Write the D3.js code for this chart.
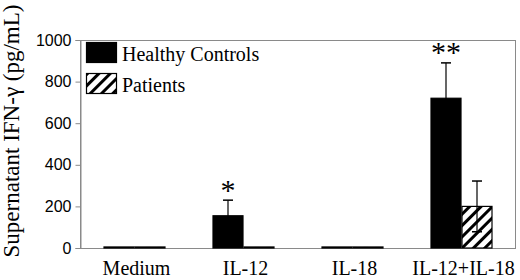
<!DOCTYPE html>
<html>
<head>
<meta charset="utf-8">
<script src="https://cdn.jsdelivr.net/npm/d3@7"></script>
<style>
  body { margin: 0; background: #fff; }
  svg { display: block; }
</style>
</head>
<body>
<svg id="chart"></svg>
<script>
// data
const categories = ['Medium', 'IL-12', 'IL-18', 'IL-12+IL-18'];
const seriesNames = ['Healthy Controls', 'Patients'];
const healthyValues = [5, 155, 5, 720];
const healthyErrors = [0, 75, 0, 170];
const patientValues = [5, 5, 5, 200];
const patientErrors = [0, 0, 0, 122];
const significance = ['', '*', '', '**'];
const yTicks = [0, 200, 400, 600, 800, 1000];

const width = 520, height = 280;
const margin = {top: 40, right: 4, bottom: 32, left: 80};
const innerW = width - margin.left - margin.right;
const innerH = height - margin.top - margin.bottom;

const svg = d3.select('#chart')
    .attr('width', width)
    .attr('height', height);

const defs = svg.append('defs');
const pat = defs.append('pattern')
    .attr('id', 'hatch')
    .attr('patternUnits', 'userSpaceOnUse')
    .attr('width', 8)
    .attr('height', 8)
    .attr('patternTransform', 'rotate(45)');
pat.append('rect').attr('width', 8).attr('height', 8).attr('fill', '#fff');
pat.append('rect').attr('width', 3).attr('height', 8).attr('fill', '#000');

const chart = svg.append('g')
    .attr('transform', `translate(${margin.left},${margin.top})`);

const x0 = d3.scaleBand().domain(categories).range([0, innerW]).paddingInner(0).paddingOuter(0);
const x1 = d3.scaleBand().domain(seriesNames).range([0, 62]);
const groupOffset = (x0.bandwidth() - 62) / 2;
const y = d3.scaleLinear().domain([0, 1000]).range([innerH, 0]);

// frame
chart.append('rect')
    .attr('x', 0.5).attr('y', 0.5)
    .attr('width', innerW - 1).attr('height', innerH)
    .attr('fill', 'none')
    .attr('stroke', '#8a8a8a')
    .attr('stroke-width', 1);

// y axis
const yAxis = d3.axisLeft(y).tickValues(yTicks).tickFormat(d3.format('d')).tickSize(5).tickPadding(4);
chart.append('g')
    .attr('class', 'axis y-axis')
    .attr('transform', 'translate(0.5,0)')
    .call(yAxis)
    .call(g => g.select('.domain').attr('stroke', '#8a8a8a'))
    .call(g => g.selectAll('.tick line').attr('stroke', '#8a8a8a'))
    .call(g => g.selectAll('.tick text')
        .attr('font-family', '"Liberation Sans", Arial, sans-serif')
        .attr('font-size', 16)
        .attr('fill', '#000'));

// x labels
chart.append('g')
    .selectAll('text')
    .data(categories)
    .join('text')
    .attr('x', d => x0(d) + x0.bandwidth() / 2 + 2)
    .attr('y', innerH + 27)
    .attr('text-anchor', 'middle')
    .attr('font-family', '"Liberation Serif", "Times New Roman", serif')
    .attr('font-size', 20)
    .text(d => d);

const rows = categories.map((c, i) => ({
  cat: c,
  bars: [
    {s: seriesNames[0], v: healthyValues[i], e: healthyErrors[i]},
    {s: seriesNames[1], v: patientValues[i], e: patientErrors[i]}
  ],
  sig: significance[i]
}));

const groups = chart.selectAll('.group')
    .data(rows)
    .join('g')
    .attr('class', 'group')
    .attr('transform', d => `translate(${x0(d.cat) + groupOffset},0)`);

groups.selectAll('rect')
    .data(d => d.bars)
    .join('rect')
    .attr('x', d => x1(d.s) + 0.5)
    .attr('y', d => y(d.v))
    .attr('width', x1.bandwidth() - 1)
    .attr('height', d => innerH - y(d.v))
    .attr('fill', d => d.s === seriesNames[0] ? '#000' : 'url(#hatch)')
    .attr('stroke', '#000')
    .attr('stroke-width', 1.2);

// error bars
const errs = groups.selectAll('.err')
    .data(d => d.bars.filter(b => b.e > 0))
    .join('g')
    .attr('class', 'err')
    .attr('transform', d => `translate(${x1(d.s) + x1.bandwidth() / 2},0)`);
errs.append('line')
    .attr('x1', 0).attr('x2', 0)
    .attr('y1', d => y(d.v - d.e)).attr('y2', d => y(d.v + d.e))
    .attr('stroke', '#000').attr('stroke-width', 1.2);
errs.append('line')
    .attr('x1', -5).attr('x2', 5)
    .attr('y1', d => y(d.v + d.e)).attr('y2', d => y(d.v + d.e))
    .attr('stroke', '#000').attr('stroke-width', 1.5);
errs.append('line')
    .attr('x1', -5).attr('x2', 5)
    .attr('y1', d => y(d.v - d.e)).attr('y2', d => y(d.v - d.e))
    .attr('stroke', '#000').attr('stroke-width', 1.5);

// significance stars
groups.append('text')
    .attr('x', x1(seriesNames[0]) + x1.bandwidth() / 2)
    .attr('y', d => y(d.bars[0].v + d.bars[0].e) - 2)
    .attr('text-anchor', 'middle')
    .attr('font-family', '"Liberation Serif", "Times New Roman", serif')
    .attr('font-size', 30)
    .attr('dy', '0.55em')
    .attr('transform', 'translate(0,-15)')
    .text(d => d.sig);

// legend
const legend = chart.append('g').attr('transform', 'translate(6,2)');
const legendItems = legend.selectAll('g')
    .data(seriesNames)
    .join('g')
    .attr('transform', (d, i) => `translate(0,${i * 31})`);
legendItems.append('rect')
    .attr('x', 0.5).attr('y', 0.5)
    .attr('width', 30).attr('height', 20)
    .attr('fill', (d, i) => i === 0 ? '#000' : 'url(#hatch)')
    .attr('stroke', '#000')
    .attr('stroke-width', 1.2);
legendItems.append('text')
    .attr('x', 36)
    .attr('y', 19)
    .attr('font-family', '"Liberation Serif", "Times New Roman", serif')
    .attr('font-size', 20)
    .text(d => d);

// y axis title
svg.append('text')
    .attr('transform', 'rotate(-90)')
    .attr('x', -131)
    .attr('y', 19)
    .attr('text-anchor', 'middle')
    .attr('font-family', '"Liberation Serif", "Times New Roman", serif')
    .attr('font-size', 23)
    .text('Supernatant IFN-γ (pg/mL)');
</script>
</body>
</html>
